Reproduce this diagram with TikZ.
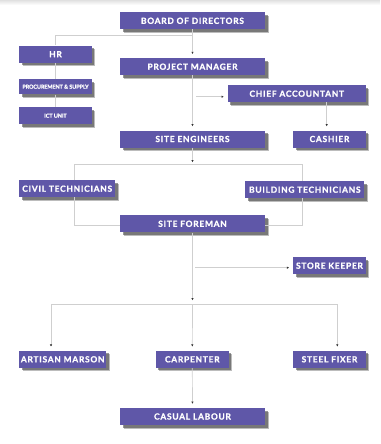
\documentclass[tikz,border=0pt]{standalone}
\usepackage{fontspec}
\setmainfont{Lato}
\usetikzlibrary{arrows.meta,shadows,calc}
\definecolor{boxfill}{HTML}{5F57A8}
\definecolor{linecol}{HTML}{CFCFCF}
\tikzset{
  box/.style={fill=boxfill, text=white, inner sep=0pt, minimum height=17pt,
    font=\fontsize{8.4}{9}\selectfont\bfseries\addfontfeature{LetterSpace=9,FakeBold=1.2},
    general shadow={fill=black!75, opacity=0.35, shadow xshift=3.5pt, shadow yshift=-3.5pt},
    general shadow={fill=black!75, opacity=0.55, shadow xshift=2.5pt, shadow yshift=-2.5pt}},
  small/.style={font=\fontsize{5.5}{6}\selectfont\bfseries\addfontfeature{LetterSpace=-2,FakeBold=1}},
  conn/.style={draw=linecol, line width=0.7pt},
  arr/.style={conn, -{Latex[length=2.2pt,width=2.4pt,color=black!80]}, shorten >=4pt},
}
\begin{document}
\begin{tikzpicture}[x=1pt,y=-1pt]
\useasboundingbox (0,0) rectangle (380,444);
\shade[top color=black!12, bottom color=white] (0,0) rectangle (380,5);
% nodes
\node[box, minimum width=145pt] (bod) at (192.5,20.8) {BOARD OF DIRECTORS};
\node[box, minimum width=145pt] (pm) at (192.5,66.7) {PROJECT MANAGER};
\node[box, minimum width=72.4pt] (hr) at (55.5,54.2) {HR};
\node[box, small, minimum width=72.4pt, minimum height=15.3pt] (proc) at (55.5,86.7) {PROCUREMENT \& SUPPLY};
\node[box, small, minimum width=72.4pt, minimum height=16.7pt] (ict) at (55.5,115.7) {ICT UNIT};
\node[box, minimum width=137.7pt, minimum height=16.7pt] (ca) at (296.8,93.7) {CHIEF ACCOUNTANT};
\node[box, minimum width=145pt] (se) at (192.5,139) {SITE ENGINEERS};
\node[box, minimum width=72.4pt] (cash) at (329.5,139) {CASHIER};
\node[box, minimum width=95.7pt] (civil) at (67.2,188.7) {CIVIL TECHNICIANS};
\node[box, minimum width=119pt] (build) at (304.8,189.7) {BUILDING TECHNICIANS};
\node[box, minimum width=145pt] (sf) at (192.5,223.8) {SITE FOREMAN};
\node[box, minimum width=72.4pt] (sk) at (329.5,265.7) {STORE KEEPER};
\node[box, minimum width=86.7pt] (art) at (62.7,359.3) {ARTISAN MARSON};
\node[box, minimum width=72.7pt] (carp) at (192.3,359.3) {CARPENTER};
\node[box, minimum width=72.4pt] (steel) at (329.5,359.3) {STEEL FIXER};
\node[box, minimum width=145pt] (cas) at (192.5,416.5) {CASUAL LABOUR};
% helper coordinates
\coordinate (j1) at (55.5,35);
\coordinate (b1) at (196,96.7);
\coordinate (j2l) at (74,164.3);
\coordinate (j2r) at (302.7,164.3);
\coordinate (j2) at (192.5,164.3);
\coordinate (cl) at (74,225.3);
\coordinate (cr) at (302.7,225.3);
\coordinate (b2) at (195,267.7);
\coordinate (j3) at (192.5,304.3);
\coordinate (j3l) at (51,304.3);
\coordinate (j3r) at (337.3,304.3);
\coordinate (cx) at (326.7,0);
% connectors
\draw[conn] (hr.north) -- (j1) -- (bod.south |- j1);
\draw[arr] (bod.south) -- (pm.north);
\draw[conn] (hr.south) -- (proc.north);
\draw[conn] (proc.south) -- (ict.north);
\draw[arr] (pm.south) -- (se.north);
\draw[arr] (b1) -- (ca.west |- b1);
\draw[arr] (cx |- ca.south) -- (cx |- cash.north);
\draw[arr, shorten >=2pt] (se.south) -- (j2);
\draw[conn] (j2l) -- (j2r);
\draw[conn] (j2l) -- (civil.north -| j2l);
\draw[conn] (j2r) -- (build.north -| j2r);
\draw[conn] (civil.south -| cl) -- (cl) -- (sf.west |- cl);
\draw[conn] (build.south -| cr) -- (cr) -- (sf.east |- cr);
\draw[arr] (sf.south) -- (j3);
\draw[arr] (b2) -- (sk.west |- b2);
\draw[conn] (j3l) -- (j3r);
\draw[arr] (j3l) -- (art.north -| j3l);
\draw[arr] (j3) -- (carp.north);
\draw[arr] (j3r) -- (steel.north -| j3r);
\draw[arr] (carp.south) -- (cas.north);
\end{tikzpicture}
\end{document}
